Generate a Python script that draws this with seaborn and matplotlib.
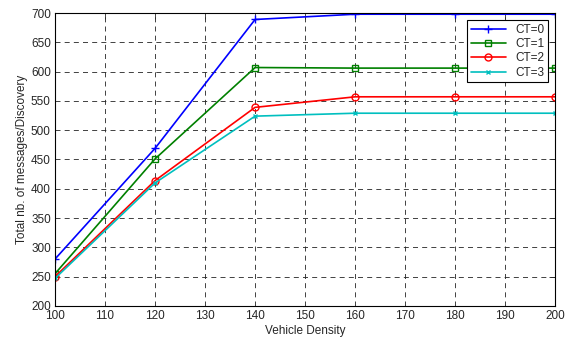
import matplotlib
matplotlib.use("Agg")
import matplotlib.pyplot as plt
import seaborn as sns
import pandas as pd

density = [100, 120, 140, 160, 180, 200]
ct0 = [280, 469, 689, 698, 698, 698]
ct1 = [255, 451, 607, 606, 606, 606]
ct2 = [250, 414, 539, 557, 557, 557]
ct3 = [247, 410, 524, 529, 529, 529]
labels = ["CT=0", "CT=1", "CT=2", "CT=3"]

sns.set_style("white")
plt.rcParams['font.family'] = ['Liberation Sans', 'DejaVu Sans']

fig = plt.figure(figsize=(5.77, 3.43), dpi=100)
ax = fig.add_axes([0.0953, 0.108, 0.867, 0.854])

series = [ct0, ct1, ct2, ct3]
colors = ["#0000ff", "#008000", "#ff0000", "#00bfbf"]
markers = ["+", "s", "o", "x"]
msizes = [6, 5, 5, 3]

for vals, lab, c, m, ms in zip(series, labels, colors, markers, msizes):
    df = pd.DataFrame({"x": density, "y": vals})
    sns.lineplot(data=df, x="x", y="y", ax=ax, color=c, marker=m, markersize=ms,
                 markerfacecolor="none", markeredgecolor=c, markeredgewidth=1.0,
                 linewidth=1.2, label=lab, legend=False)

ax.set_xlim(100, 200)
ax.set_ylim(200, 700)
ax.set_xticks(range(100, 201, 10))
ax.set_yticks(range(200, 701, 50))
ax.grid(True, color="#222222", linestyle=(0, (6, 5)), linewidth=0.6)
ax.tick_params(direction="in", length=4, labelsize=8.5, top=True, right=True, width=0.6, pad=3)
for s in ax.spines.values():
    s.set_color("black")
    s.set_linewidth(0.8)
ax.set_xlabel("Vehicle Density", fontsize=8.5, labelpad=2)
ax.set_ylabel("Total nb. of messages/Discovery", fontsize=8.5, labelpad=2)
leg = ax.legend(loc="upper right", fontsize=8.5, frameon=True, fancybox=False,
                edgecolor="black", framealpha=1, borderaxespad=0.6,
                handlelength=3.0, labelspacing=0.2, borderpad=0.3)
leg.get_frame().set_linewidth(0.8)

fig.savefig("out.png", dpi=100)
